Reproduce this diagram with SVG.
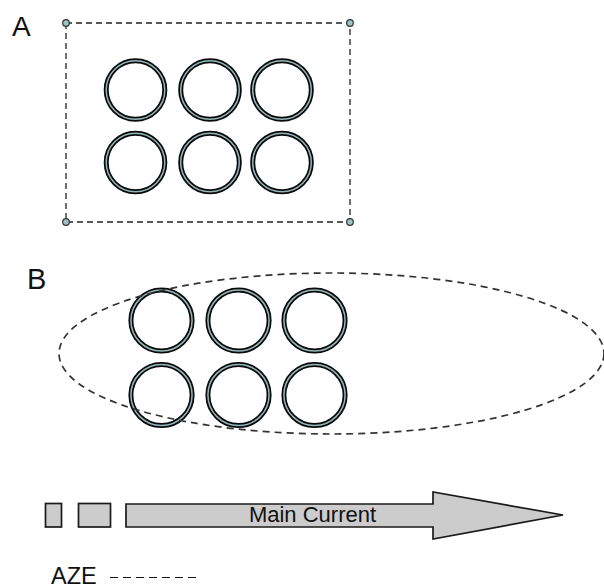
<svg xmlns="http://www.w3.org/2000/svg" width="604" height="588" viewBox="0 0 604 588">
<style>
.lbl{font-family:"Liberation Sans",Arial,sans-serif;fill:#111}
.ringo{fill:none;stroke:#0a0a0a;stroke-width:5}
.ringi{fill:none;stroke:#94b8b8;stroke-width:1.5}
.handle{fill:#9cc3c3;stroke:#333;stroke-width:1.2}
.block{fill:#cccccc;stroke:#1a1a1a;stroke-width:1.7}
</style>
<defs>
<g id="ringA"><circle class="ringo" r="29.3"/><circle class="ringi" r="29.3"/></g>
<g id="ringB"><circle class="ringo" r="30.6"/><circle class="ringi" r="30.6"/></g>
</defs>
<rect width="604" height="588" fill="#fff"/>

<g id="panelA">
<text class="lbl" x="12" y="36" font-size="28">A</text>
<rect x="66" y="23" width="284" height="199" fill="none" stroke="#222" stroke-width="1.3" stroke-dasharray="6,4"/>
<circle class="handle" cx="66" cy="23" r="3.3"/>
<circle class="handle" cx="350" cy="23" r="3.3"/>
<circle class="handle" cx="66" cy="222" r="3.3"/>
<circle class="handle" cx="350" cy="222" r="3.3"/>
<use href="#ringA" x="135.5" y="90"/>
<use href="#ringA" x="210" y="90"/>
<use href="#ringA" x="282" y="90"/>
<use href="#ringA" x="135.5" y="162.5"/>
<use href="#ringA" x="210" y="162.5"/>
<use href="#ringA" x="282" y="162.5"/>
</g>

<g id="panelB">
<text class="lbl" x="27" y="289" font-size="29">B</text>
<use href="#ringB" x="161.5" y="320.5"/>
<use href="#ringB" x="238.5" y="320.5"/>
<use href="#ringB" x="314.5" y="320.5"/>
<use href="#ringB" x="161.5" y="395"/>
<use href="#ringB" x="238.5" y="395"/>
<use href="#ringB" x="314.5" y="395"/>
<ellipse cx="331.5" cy="353.5" rx="272.5" ry="80.5" fill="none" stroke="#333" stroke-width="1.7" stroke-dasharray="7,5"/>
</g>

<g id="connectors"></g>

<g id="currentBlocks">
<rect class="block" x="45.5" y="503.5" width="16" height="23.5"/>
<rect class="block" x="78.5" y="503.5" width="32" height="23.5"/>
</g>

<g id="mainCurrent">
<polygon class="block" points="126,504 433,504 433,492 563,515 433,539 433,527 126,527"/>
<text class="lbl" x="312.5" y="522" font-size="22" text-anchor="middle" fill="#141428">Main Current</text>
</g>

<g id="legendAZE">
<text class="lbl" x="51" y="584" font-size="23.5">AZE</text>
<line x1="110" y1="577.5" x2="201" y2="577.5" stroke="#111" stroke-width="1.2" stroke-dasharray="8,5"/>
</g>
</svg>
